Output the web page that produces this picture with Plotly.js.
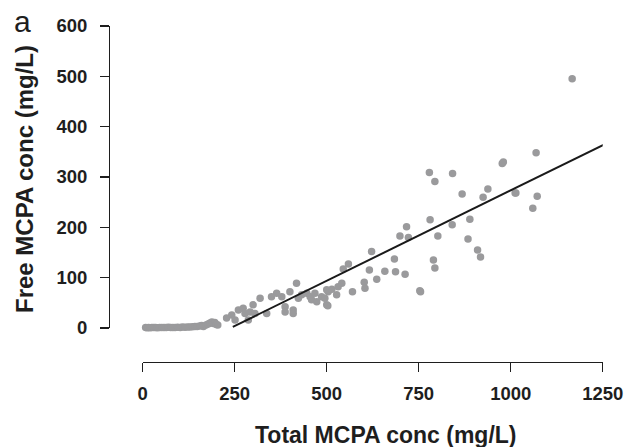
<!DOCTYPE html>
<html>
<head>
<meta charset="utf-8">
<script src="https://cdn.plot.ly/plotly-3.0.1.min.js"></script>
<style>html,body{margin:0;padding:0;background:#fff;}#chart{width:627px;height:447px;}</style>
</head>
<body>
<div id="chart"></div>
<script>
// Total MCPA concentration (mg/L) - observed points
var totalConc = [
  8,12,16,20,25,30,35,40,46,52,58,64,70,76,82,88,95,102,108,115,122,128,135,142,148,155,160,165,172,178,183,188,192,196,200,204,
  228,242,251,260,273,278,287,292,300,305,319,337,350,364,378,387,387,400,409,409,418,423,432,446,455,459,468,473,486,500,504,
  495,503,500,514,531,541,527,545,559,570,602,604,616,622,636,658,684,687,699,713,717,722,753,755,
  779,794,842,977,868,938,925,1014,781,889,841,802,884,910,918,790,794,
  1167,1069,1012,1072,1060,980
];
// Free MCPA concentration (mg/L) - observed points
var freeConc = [
  1,0.5,1,0.5,1,0.8,1,0.5,1,1.2,0.8,1,1.5,1,1,1.2,1.5,1,2,1.5,2,2,2.5,3,3,4,5,3,6,8,10,12,9,11,7,6,
  20,26,16,36,39,29,16,32,46,29,59,29,62,69,62,42,32,72,36,29,89,59,66,69,62,56,69,52,62,46,72,
  59,44,76,77,82,89,66,117,127,72,91,79,115,152,97,113,137,112,183,107,201,180,74,72,
  309,291,307,327,266,276,260,268,215,216,205,183,177,155,141,135,119,
  495,348,268,262,238,330
];
// Fitted regression line endpoints (mg/L)
var fitX = [245, 1260];
var fitY = [2.2, 366.8];

var xTicks = [0, 250, 500, 750, 1000, 1250];
var yTicks = [0, 100, 200, 300, 400, 500, 600];

var fontFam = 'Liberation Sans, Arial, Helvetica, sans-serif';
var ink = '#1e1e1e';

var traces = [
  {
    x: totalConc, y: freeConc, type: 'scatter', mode: 'markers',
    marker: {color: '#9a9a9c', size: 7.5, line: {width: 0}},
    cliponaxis: false, showlegend: false, hoverinfo: 'x+y'
  },
  {
    x: fitX, y: fitY, type: 'scatter', mode: 'lines',
    line: {color: '#1a1a1a', width: 2},
    cliponaxis: false, showlegend: false, hoverinfo: 'skip'
  }
];

var layout = {
  width: 627, height: 447,
  margin: {l: 100, r: 17, t: 20, b: 77},
  paper_bgcolor: '#ffffff', plot_bgcolor: 'rgba(0,0,0,0)',
  font: {family: fontFam, color: ink},
  xaxis: {
    domain: [0.0837, 0.9857], range: [0, 1250],
    anchor: 'free', position: 0.0229,
    tickvals: xTicks, ticktext: xTicks.map(String),
    ticks: 'outside', ticklen: 9, tickwidth: 1.5, tickcolor: ink,
    ticklabelstandoff: 5,
    showline: true, linewidth: 1.5, linecolor: ink,
    showgrid: false, zeroline: false,
    tickfont: {size: 18.5, weight: 'bold', family: fontFam, color: ink}
  },
  yaxis: {
    domain: [0.12, 0.9829], range: [0, 600],
    anchor: 'free', position: 0.0176,
    tickvals: yTicks, ticktext: yTicks.map(String),
    ticks: 'outside', ticklen: 9, tickwidth: 1.5, tickcolor: ink,
    ticklabelstandoff: 9,
    showline: true, linewidth: 1.5, linecolor: ink,
    showgrid: false, zeroline: false,
    tickfont: {size: 18.5, weight: 'bold', family: fontFam, color: ink}
  },
  annotations: [
    {text: 'Total MCPA conc (mg/L)', xref: 'paper', yref: 'paper',
     x: (386 - 100) / 510, y: (370 - 435) / 350, xanchor: 'center', yanchor: 'middle',
     showarrow: false, font: {size: 23, weight: 'bold', family: fontFam, color: ink}},
    {text: 'Free MCPA conc (mg/L)', xref: 'paper', yref: 'paper',
     x: (24 - 100) / 510, y: (370 - 179) / 350, xanchor: 'center', yanchor: 'middle',
     textangle: -90,
     showarrow: false, font: {size: 24, weight: 'bold', family: fontFam, color: ink}},
    {text: 'a', xref: 'paper', yref: 'paper',
     x: (22 - 100) / 510, y: (370 - 22) / 350, xanchor: 'center', yanchor: 'middle',
     showarrow: false, font: {size: 30, family: fontFam, color: ink}}
  ]
};

Plotly.newPlot('chart', traces, layout, {displayModeBar: false, staticPlot: true});
</script>
</body>
</html>
